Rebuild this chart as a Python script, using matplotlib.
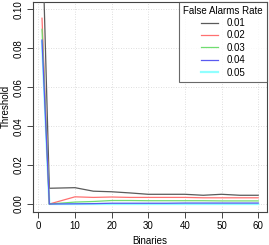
import matplotlib
matplotlib.use("Agg")
import matplotlib.pyplot as plt

plt.rcParams['font.family'] = ['Liberation Sans', 'DejaVu Sans']

# binaries on the x axis
binaries = [1, 3, 10, 15, 20, 25, 30, 35, 40, 45, 50, 55, 60]

# threshold per false alarm rate
thr_001 = [0.143, 0.0081, 0.0084, 0.0066, 0.0063, 0.0057, 0.0050, 0.0050, 0.0050, 0.0045, 0.0050, 0.0045, 0.0045]
thr_002 = [0.0955, 0.0, 0.0037, 0.0034, 0.0036, 0.0034, 0.0034, 0.0034, 0.0034, 0.0032, 0.0032, 0.0032, 0.0032]
thr_003 = [0.0898, 0.0, 0.0010, 0.0013, 0.0018, 0.0018, 0.0017, 0.0017, 0.0017, 0.0017, 0.0016, 0.0016, 0.0016]
thr_004 = [0.0843, 0.0, 0.0001, 0.0002, 0.0004, 0.0004, 0.0004, 0.0004, 0.0005, 0.0005, 0.0005, 0.0005, 0.0005]
thr_005 = [0.0835, 0.0, 0.0, 0.0, 0.0, 0.0, 0.0, 0.0, 0.0, 0.0, 0.0, 0.0, 0.0]

series = [thr_001, thr_002, thr_003, thr_004, thr_005]
rate_labels = ['0.01', '0.02', '0.03', '0.04', '0.05']
colors = ['#5a5a5a', '#ff7070', '#70dd70', '#5a5af0', '#90ffff']
widths = [0.9, 0.9, 0.9, 0.9, 1.6]
zorders = [3, 3, 3, 3, 2]

xticks = [0, 10, 20, 30, 40, 50, 60]
yticks = [0.00, 0.02, 0.04, 0.06, 0.08, 0.10]

fig = plt.figure(figsize=(2.69, 2.45), dpi=100)
ax = fig.add_axes([0.124, 0.1355, 0.868, 0.8576])

for xt in xticks:
    ax.axvline(xt, color='#d3d3d3', lw=0.6, ls=(0, (1, 2)), zorder=0)
for yt in yticks:
    ax.axhline(yt, color='#d3d3d3', lw=0.6, ls=(0, (1, 2)), zorder=0)

for vals, lab, c, w, z in zip(series, rate_labels, colors, widths, zorders):
    ax.plot(binaries, vals, color=c, lw=w, label=lab, zorder=z)

ax.set_xlim(-1.36, 62.36)
ax.set_ylim(-0.004, 0.104)
ax.set_xticks(xticks)
ax.set_yticks(yticks)
ax.set_yticklabels(['%.2f' % v for v in yticks], rotation=90, va='center')
ax.tick_params(labelsize=7, length=4, width=0.7, color='#444444')
ax.tick_params(axis='x', pad=2.5)
ax.tick_params(axis='y', pad=3)

for sp in ax.spines.values():
    sp.set_color('#444444')
    sp.set_linewidth(0.8)

ax.set_xlabel('Binaries', fontsize=7, labelpad=4)
# y label placed by hand so it stays inside the small canvas
fig.text(5.5 / 269, 0.1355 + 0.8576 / 2, 'Threshold', fontsize=7,
         rotation=90, ha='center', va='center')

leg = ax.legend(title='False Alarms Rate', loc='upper right', fontsize=7,
                title_fontsize=7, frameon=True, fancybox=False,
                borderaxespad=0, handlelength=1.8, handletextpad=0.9,
                labelspacing=0.25, borderpad=0.4)
leg.get_frame().set_edgecolor('#444444')
leg.get_frame().set_linewidth(0.8)
leg.set_zorder(5)

fig.savefig('out.png', dpi=100)
